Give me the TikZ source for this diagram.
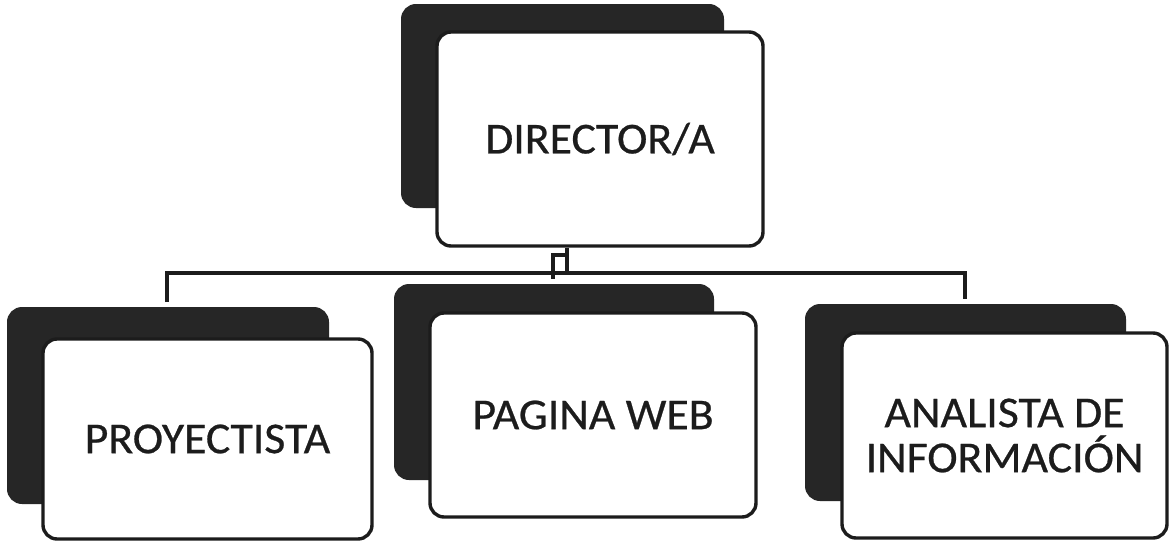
\documentclass[tikz,border=0pt]{standalone}
\usepackage{fontspec}
\setmainfont{Carlito}[FakeStretch=1.04,FakeBold=0.6]
\definecolor{ink}{HTML}{1C1C1C}
\definecolor{shade}{HTML}{262626}
\begin{document}
\begin{tikzpicture}[x=1pt,y=-1pt,
  backbox/.style={draw=shade,fill=shade,line width=2pt,rounded corners=14pt,
    minimum width=#1,inner sep=0pt},
  frontbox/.style={draw=ink,fill=white,line width=3.4pt,rounded corners=14pt,
    inner sep=0pt,text=ink,align=center,
    font=\fontsize{44}{45}\selectfont},
  conn/.style={draw=ink,line width=3.3pt}]
\useasboundingbox[fill=white] (0,0) rectangle (1173,552);
% top
\node[backbox=321pt,minimum height=202pt] (tb) at (562.5,106) {};
\node[frontbox,minimum width=326pt,minimum height=214pt] (tf) at (600,139) {DIRECTOR/A};
% left
\node[backbox=320pt,minimum height=195pt] (lb) at (168,405.5) {};
\node[frontbox,minimum width=329pt,minimum height=200pt] (lf) at (207.5,439) {PROYECTISTA};
% middle
\node[backbox=318pt,minimum height=194pt] (mb) at (554,382) {};
\node[frontbox,minimum width=326pt,minimum height=204pt] (mf) at (593,415) {PAGINA WEB};
% right
\node[backbox=319pt,minimum height=195pt] (rb) at (965.5,402.5) {};
\node[frontbox,minimum width=325pt,minimum height=205pt] (rf) at (1004.5,435.5) {ANALISTA DE\\INFORMACIÓN};
% connectors
\coordinate (jl) at (167,273);
\coordinate (jr) at (965,273);
\coordinate (jm) at (567,273);
\coordinate (lend) at (167,302);
\coordinate (rend) at (965,299);
\coordinate (kink) at (567,255);
\coordinate (mend) at (553,279);
\draw[conn] (lend) -- (jl) -- (jr) -- (rend);
\draw[conn] (tf.south -| jm) -- (jm);
\draw[conn] (kink) -| (mend);
\end{tikzpicture}
\end{document}
